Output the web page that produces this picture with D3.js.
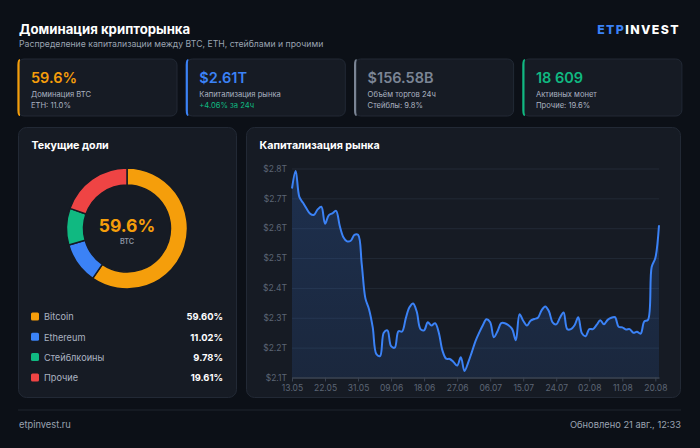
<!DOCTYPE html>
<html>
<head>
<meta charset="utf-8">
<script src="https://cdn.jsdelivr.net/npm/d3@7"></script>
<style>
  html, body { margin: 0; padding: 0; background: #0c1017; }
  svg { display: block; font-family: Inter, 'Noto Sans', sans-serif; }
</style>
</head>
<body>
<svg id="chart" width="700" height="448"></svg>
<script>
'use strict';

// KPI cards
var KPI_VALUES = ['59.6%', '$2.61T', '$156.58B', '18 609'];
var KPI_LABELS = ['Доминация BTC', 'Капитализация рынка', 'Объём торгов 24ч', 'Активных монет'];
var KPI_NOTES = ['ETH: 11.0%', '+4.06% за 24ч', 'Стейблы: 9.8%', 'Прочие: 19.6%'];
var KPI_COLORS = ['#f59e0b', '#3b82f6', '#7b8595', '#10b981'];
var KPI_NOTE_COLORS = ['#aab2c0', '#10b981', '#aab2c0', '#aab2c0'];

// current shares
var SHARE_NAMES = ['Bitcoin', 'Ethereum', 'Стейблкоины', 'Прочие'];
var SHARE_VALUES = [59.60, 11.02, 9.78, 19.61];
var SHARE_COLORS = ['#f59e0b', '#3b82f6', '#10b981', '#ef4444'];

// market cap, trillions USD, one value per day from 13.05
var CAP_START = new Date(2025, 4, 13);
var CAP_VALUES = [
  2.733, 2.792, 2.705, 2.685, 2.665, 2.648, 2.645, 2.663, 2.672, 2.615,
  2.643, 2.650, 2.658, 2.608, 2.570, 2.556, 2.558, 2.578, 2.578, 2.480,
  2.365, 2.328, 2.268, 2.178, 2.172, 2.250, 2.258, 2.205, 2.200, 2.255,
  2.254, 2.298, 2.335, 2.348, 2.320, 2.262, 2.258, 2.285, 2.274, 2.282,
  2.250, 2.190, 2.163, 2.162, 2.152, 2.140, 2.168, 2.122, 2.150, 2.185,
  2.222, 2.250, 2.275, 2.295, 2.285, 2.235, 2.255, 2.282, 2.282, 2.275,
  2.262, 2.225, 2.312, 2.290, 2.274, 2.290, 2.296, 2.300, 2.325, 2.338,
  2.322, 2.285, 2.278, 2.300, 2.318, 2.262, 2.262, 2.275, 2.302, 2.248,
  2.238, 2.262, 2.262, 2.276, 2.292, 2.278, 2.293, 2.300, 2.302, 2.270,
  2.268, 2.261, 2.262, 2.250, 2.253, 2.247, 2.288, 2.293, 2.470, 2.500,
  2.610
];
var Y_TICKS = [2.1, 2.2, 2.3, 2.4, 2.5, 2.6, 2.7, 2.8];
var X_TICK_STEP = 9;  // days

var BG = '#0c1017';
var CARD = '#161b24';
var CARD_BORDER = '#222935';

var svg = d3.select('#chart');
svg.append('rect').attr('width', 700).attr('height', 448).attr('fill', BG);

// header
svg.append('text').attr('x', 19).attr('y', 34)
  .attr('fill', '#ffffff').attr('font-size', 13.2).attr('font-weight', 700)
  .text('Доминация крипторынка');
svg.append('text').attr('x', 19).attr('y', 47)
  .attr('fill', '#9aa3b1').attr('font-size', 8.7)
  .text('Распределение капитализации между BTC, ETH, стейблами и прочими');

var logo = svg.append('text').attr('x', 680).attr('y', 34)
  .attr('text-anchor', 'end').attr('font-size', 12.3).attr('font-weight', 800)
  .attr('letter-spacing', 1.4);
logo.append('tspan').attr('fill', '#3b82f6').text('ETP');
logo.append('tspan').attr('fill', '#ffffff').text('INVEST');

// KPI cards
var cardW = 159, cardGap = 9.3;
var cards = svg.selectAll('g.kpi')
  .data(KPI_VALUES)
  .enter()
  .append('g')
  .attr('class', 'kpi')
  .attr('transform', function(d, i) { return 'translate(' + (18 + i * (cardW + cardGap)) + ', 59)'; });

cards.append('rect')
  .attr('width', cardW).attr('height', 57).attr('rx', 6)
  .attr('fill', CARD).attr('stroke', CARD_BORDER).attr('stroke-width', 1);
cards.append('path')
  .attr('d', 'M2,1 Q0.5,1 0.5,6 L0.5,51 Q0.5,56 2,56')
  .attr('fill', 'none')
  .attr('stroke', function(d, i) { return KPI_COLORS[i]; })
  .attr('stroke-width', 2.2);
cards.append('text')
  .attr('x', 13).attr('y', 24)
  .attr('font-size', 14.5).attr('font-weight', 600)
  .attr('fill', function(d, i) { return KPI_COLORS[i]; })
  .text(function(d) { return d; });
cards.append('text')
  .attr('x', 13).attr('y', 38)
  .attr('font-size', 7.6).attr('fill', '#aab2c0')
  .text(function(d, i) { return KPI_LABELS[i]; });
cards.append('text')
  .attr('x', 13).attr('y', 49)
  .attr('font-size', 7.6)
  .attr('fill', function(d, i) { return KPI_NOTE_COLORS[i]; })
  .text(function(d, i) { return KPI_NOTES[i]; });

// panels
function panel(x, y, w, h, title) {
  var g = svg.append('g').attr('transform', 'translate(' + x + ',' + y + ')');
  g.append('rect').attr('width', w).attr('height', h).attr('rx', 8)
    .attr('fill', CARD).attr('stroke', CARD_BORDER).attr('stroke-width', 1);
  g.append('text').attr('x', 13).attr('y', 21)
    .attr('fill', '#ffffff').attr('font-size', 10.7).attr('font-weight', 700)
    .text(title);
  return g;
}

panel(18.5, 127.5, 218, 270, 'Текущие доли');
panel(246.5, 127.5, 434, 270, 'Капитализация рынка');

// donut
var pie = d3.pie().sort(null).value(function(d) { return d; });
var arc = d3.arc().innerRadius(43.5).outerRadius(60.5);
var donut = svg.append('g').attr('transform', 'translate(127, 228.5)');
donut.selectAll('path')
  .data(pie(SHARE_VALUES))
  .enter()
  .append('path')
  .attr('d', arc)
  .attr('fill', function(d, i) { return SHARE_COLORS[i]; })
  .attr('stroke', CARD)
  .attr('stroke-width', 1.5);
donut.append('text').attr('y', 3.5).attr('text-anchor', 'middle')
  .attr('fill', '#f59e0b').attr('font-size', 17.5).attr('font-weight', 700)
  .text(SHARE_VALUES[0].toFixed(1) + '%');
donut.append('text').attr('y', 15.5).attr('text-anchor', 'middle')
  .attr('fill', '#8b94a3').attr('font-size', 7.2).attr('font-weight', 600)
  .text('BTC');

// legend
var legend = svg.selectAll('g.legend')
  .data(SHARE_NAMES)
  .enter()
  .append('g')
  .attr('class', 'legend')
  .attr('transform', function(d, i) { return 'translate(31,' + (317 + i * 20.3) + ')'; });
legend.append('rect')
  .attr('x', 0).attr('y', -4.5).attr('width', 8).attr('height', 8).attr('rx', 1.5)
  .attr('fill', function(d, i) { return SHARE_COLORS[i]; });
legend.append('text')
  .attr('x', 13).attr('y', 3.3)
  .attr('font-size', 9.2).attr('fill', '#aab2c0')
  .text(function(d) { return d; });
legend.append('text')
  .attr('x', 192).attr('y', 3.3).attr('text-anchor', 'end')
  .attr('font-size', 9.4).attr('font-weight', 700).attr('fill', '#ffffff')
  .text(function(d, i) { return SHARE_VALUES[i].toFixed(2) + '%'; });

// market cap line
var capData = CAP_VALUES.map(function(v, i) {
  return { date: d3.timeDay.offset(CAP_START, i), value: v };
});

var x = d3.scaleTime()
  .domain([CAP_START, capData[capData.length - 1].date])
  .range([292, 659]);
var y = d3.scaleLinear()
  .domain([2.1, 2.8])
  .range([377.5, 168.5]);

var plot = svg.append('g');

var grad = svg.append('defs').append('linearGradient')
  .attr('id', 'capFill').attr('x1', 0).attr('y1', 0).attr('x2', 0).attr('y2', 1);
grad.append('stop').attr('offset', '0%').attr('stop-color', '#3b82f6').attr('stop-opacity', 0.2);
grad.append('stop').attr('offset', '100%').attr('stop-color', '#3b82f6').attr('stop-opacity', 0.12);

var yAxis = plot.append('g')
  .attr('transform', 'translate(292,0)')
  .call(d3.axisLeft(y).tickValues(Y_TICKS).tickSize(-367)
    .tickFormat(function(d) { return '$' + d.toFixed(1) + 'T'; }));
yAxis.select('.domain').remove();
yAxis.selectAll('line').attr('stroke', '#222a36').attr('stroke-width', 1);
yAxis.selectAll('text')
  .attr('x', -5).attr('fill', '#5c6574').attr('font-size', 8.5)
  .attr('font-family', 'Inter, sans-serif');

var curve = d3.curveCatmullRom.alpha(0.5);

plot.append('path')
  .datum(capData)
  .attr('d', d3.area()
    .x(function(d) { return x(d.date); })
    .y0(y(2.1))
    .y1(function(d) { return y(d.value); })
    .curve(curve))
  .attr('fill', 'url(#capFill)');

plot.append('path')
  .datum(capData)
  .attr('d', d3.line()
    .x(function(d) { return x(d.date); })
    .y(function(d) { return y(d.value); })
    .curve(curve))
  .attr('fill', 'none')
  .attr('stroke', '#3b82f6')
  .attr('stroke-width', 2)
  .attr('stroke-linejoin', 'round');

var xTicks = d3.range(0, CAP_VALUES.length, X_TICK_STEP).map(function(i) {
  return d3.timeDay.offset(CAP_START, i);
});
var xAxis = plot.append('g')
  .attr('transform', 'translate(0,' + y(2.1) + ')')
  .call(d3.axisBottom(x).tickValues(xTicks).tickSize(4).tickSizeOuter(0)
    .tickFormat(d3.timeFormat('%d.%m')));
xAxis.select('.domain').attr('stroke', '#3a4352').attr('stroke-width', 1.5);
xAxis.selectAll('line').attr('stroke', '#3a4352');
xAxis.selectAll('text')
  .attr('y', 7).attr('fill', '#5c6574').attr('font-size', 8.5)
  .attr('font-family', 'Inter, sans-serif');

// footer
svg.append('line')
  .attr('x1', 18).attr('x2', 681).attr('y1', 410).attr('y2', 410)
  .attr('stroke', '#1e242f').attr('stroke-width', 1);
svg.append('text').attr('x', 19).attr('y', 428)
  .attr('fill', '#9aa3b1').attr('font-size', 9.3)
  .text('etpinvest.ru');
svg.append('text').attr('x', 681).attr('y', 428).attr('text-anchor', 'end')
  .attr('fill', '#9aa3b1').attr('font-size', 9.3)
  .text('Обновлено 21 авг., 12:33');
</script>
</body>
</html>
